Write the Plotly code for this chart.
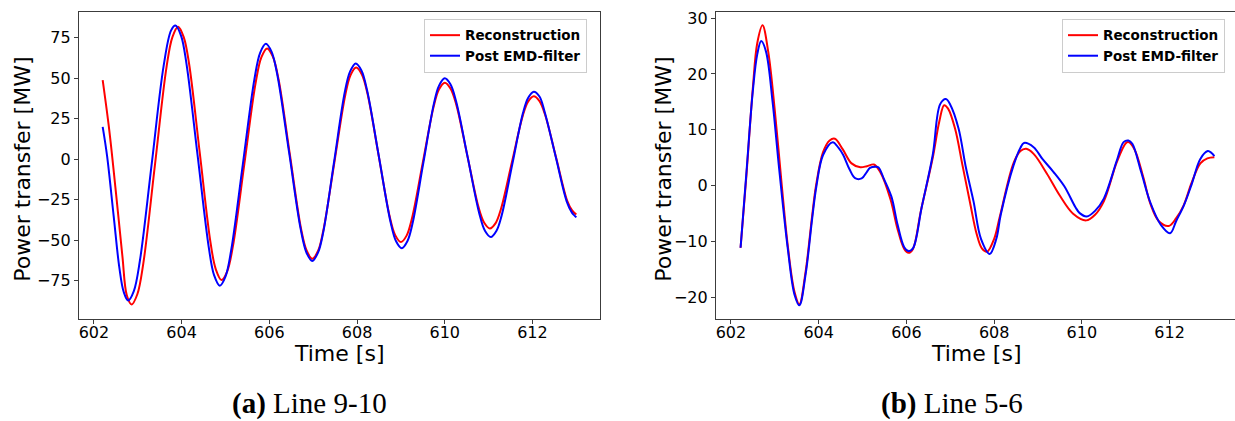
import plotly.graph_objects as go

# ---------------- Line 9-10 ----------------
t_a_rec = [602.2, 602.35, 602.5, 602.65, 602.75, 602.86, 602.99,
           603.125, 603.39, 603.655, 603.79, 603.92, 604.05,
           604.17, 604.415, 604.66, 604.78, 604.91, 605.04,
           605.17, 605.43, 605.69, 605.82, 605.95, 606.08,
           606.21, 606.465, 606.72, 606.85, 606.98, 607.11,
           607.23, 607.48, 607.73, 607.85, 607.98, 608.11,
           608.235, 608.49, 608.745, 608.87, 609.0, 609.13,
           609.25, 609.5, 609.75, 609.87, 610.0, 610.13,
           610.26, 610.515, 610.77, 610.9, 611.03, 611.16,
           611.28, 611.53, 611.78, 611.9, 612.03, 612.16,
           612.285, 612.54, 612.795, 612.9, 613.0]
p_a_rec = [48.8, 18.0, -20.0, -60.0, -84.0, -89.7, -83.4,
           -64.6, -4.0, 56.7, 75.4, 81.8, 75.2,
           58.9, 3.6, -51.7, -68.0, -74.6, -69.2,
           -53.7, -3.1, 47.5, 63.0, 68.4, 63.3,
           49.4, 3.5, -42.5, -56.4, -61.5, -56.7,
           -44.2, -2.5, 39.3, 51.8, 56.6, 52.3,
           40.8, 2.7, -35.4, -46.9, -51.2, -47.2,
           -36.8, -2.0, 32.8, 43.2, 47.2, 43.7,
           34.0, 2.2, -29.6, -39.3, -42.8, -39.5,
           -30.9, -2.0, 26.9, 35.5, 38.8, 35.8,
           27.7, 0.9, -25.9, -31.5, -34.2]

t_a_emd = [602.2, 602.3, 602.45, 602.58, 602.68, 602.78, 602.91,
           603.05, 603.32, 603.59, 603.76, 603.86, 603.99,
           604.11, 604.365, 604.62, 604.74, 604.87, 605.0,
           605.13, 605.395, 605.66, 605.79, 605.92, 606.05,
           606.185, 606.45, 606.715, 606.85, 606.98, 607.11,
           607.23, 607.475, 607.72, 607.84, 607.97, 608.1,
           608.23, 608.495, 608.76, 608.89, 609.02, 609.15,
           609.265, 609.51, 609.755, 609.87, 610.0, 610.13,
           610.26, 610.525, 610.79, 610.92, 611.05, 611.18,
           611.295, 611.54, 611.785, 611.9, 612.03, 612.16,
           612.28, 612.53, 612.78, 612.9, 612.95, 613.0]
p_a_emd = [19.9, 2.0, -35.0, -67.0, -82.0, -87.3, -81.4,
           -62.4, -2.4, 57.6, 79.5, 82.5, 76.0,
           59.0, 2.2, -54.6, -71.6, -78.1, -72.5,
           -56.2, -3.4, 49.4, 65.7, 71.3, 66.4,
           51.7, 4.3, -43.2, -57.9, -62.8, -57.7,
           -45.0, -1.9, 41.3, 54.0, 59.1, 54.8,
           42.4, 2.1, -38.3, -50.7, -55.0, -50.5,
           -39.7, -2.6, 34.6, 45.4, 49.9, 46.2,
           35.6, 0.9, -33.8, -44.4, -48.1, -44.2,
           -35.0, -3.2, 28.6, 37.8, 41.7, 38.7,
           29.0, 1.5, -26.0, -33.0, -34.5, -35.9]

# ---------------- Line 5-6 ----------------
t_b_rec = [602.22, 602.35, 602.5, 602.6, 602.72, 602.85, 603.0, 603.16,
           603.3, 603.45, 603.56, 603.7, 603.85, 603.94, 604.1, 604.25,
           604.37, 604.55, 604.75, 604.95, 605.1, 605.26, 605.4, 605.64,
           605.79, 605.95, 606.05, 606.15, 606.33, 606.6, 606.75, 606.86,
           606.95, 607.11, 607.28, 607.45, 607.6, 607.72, 607.84, 608.0,
           608.13, 608.44, 608.6, 608.73, 608.9, 609.2, 609.5, 609.8,
           610.1, 610.3, 610.5, 610.8, 611.0, 611.06, 611.2, 611.4,
           611.56, 611.75, 611.98, 612.15, 612.32, 612.5, 612.7, 612.86,
           613.02]
p_b_rec = [-11.1, 1.5, 17.5, 25.5, 28.7, 24.0, 13.5, 0.0,
           -11.0, -19.0, -21.2, -15.5, -5.5, 0.0, 6.0, 8.1,
           8.4, 6.5, 4.0, 3.3, 3.5, 3.8, 2.5, -2.5,
           -7.5, -11.3, -12.0, -11.3, -4.5, 5.0, 11.5, 14.4,
           13.8, 10.2, 3.6, -3.0, -8.6, -11.2, -11.8, -9.5,
           -5.5, 4.0, 6.2, 6.6, 5.7, 2.2, -1.8, -5.0,
           -6.2, -5.2, -2.8, 4.3, 7.6, 7.8, 6.5, 1.5,
           -3.2, -6.3, -7.2, -5.8, -3.5, 0.5, 4.0, 4.9,
           5.1]

t_b_emd = [602.22, 602.35, 602.5, 602.6, 602.69, 602.8, 602.95, 603.1,
           603.3, 603.45, 603.56, 603.7, 603.85, 603.95, 604.1, 604.32,
           604.45, 604.56, 604.7, 604.83, 604.98, 605.1, 605.17, 605.3,
           605.36, 605.5, 605.66, 605.8, 605.95, 606.05, 606.15, 606.35,
           606.6, 606.77, 606.9, 607.0, 607.19, 607.35, 607.53, 607.7,
           607.9, 608.05, 608.15, 608.44, 608.6, 608.68, 608.9, 609.1,
           609.35, 609.6, 609.85, 609.95, 610.11, 610.3, 610.5, 610.8,
           610.95, 611.06, 611.15, 611.35, 611.56, 611.8, 612.01, 612.15,
           612.32, 612.5, 612.7, 612.87, 612.95, 613.02]
p_b_emd = [-11.1, 2.0, 17.0, 23.5, 25.9, 24.0, 15.0, 3.0,
           -11.5, -19.5, -21.4, -16.0, -6.0, 0.0, 5.5, 7.8,
           6.8, 5.5, 3.0, 1.35, 1.3, 2.5, 3.2, 3.4,
           3.3, 1.0, -2.0, -7.0, -11.0, -11.7, -11.2, -3.8,
           5.5, 14.6, 15.5, 14.5, 10.2, 3.5, -2.8, -9.5,
           -12.2, -9.5, -5.2, 3.6, 6.8, 7.65, 6.9, 4.8,
           2.5, -0.1, -3.8, -4.9, -5.5, -4.5, -2.3, 4.6,
           7.8, 8.1, 7.5, 2.5, -3.0, -7.0, -8.5, -6.3,
           -3.6, 0.2, 4.8, 6.2, 5.9, 5.3]

xticks = [602, 604, 606, 608, 610, 612]
yticks_a = [-75, -50, -25, 0, 25, 50, 75]
yticks_b = [-20, -10, 0, 10, 20, 30]

W, H = 1235, 421
RED, BLUE = "#ff0000", "#0000ff"
SPINE = "#3c3c3c"
FONT = "DejaVu Sans"


def px(x):
    return x / W


def py(y):
    return 1 - y / H


fig = go.Figure()

series = [
    (t_a_rec, p_a_rec, "Reconstruction", RED, "x", "y", "legend"),
    (t_a_emd, p_a_emd, "Post EMD-filter", BLUE, "x", "y", "legend"),
    (t_b_rec, p_b_rec, "Reconstruction", RED, "x2", "y2", "legend2"),
    (t_b_emd, p_b_emd, "Post EMD-filter", BLUE, "x2", "y2", "legend2"),
]
for t, p, name, color, xa, ya, lg in series:
    fig.add_trace(go.Scatter(
        x=t, y=p, mode="lines", name=name,
        line=dict(color=color, width=2, shape="spline", smoothing=1.0),
        xaxis=xa, yaxis=ya, legend=lg,
    ))

axis_common = dict(
    showgrid=False, zeroline=False, showline=True, linecolor=SPINE,
    linewidth=1.3, ticks="outside", ticklen=4, tickwidth=1.2,
    tickcolor=SPINE, tickfont=dict(family=FONT, size=16, color="black"),
)
xaxis_extra = dict(ticklabelstandoff=-5)

ydom = [py(318), py(9)]
fig.update_layout(
    width=W, height=H,
    margin=dict(l=0, r=0, t=0, b=0),
    paper_bgcolor="white", plot_bgcolor="white",
    showlegend=True,
    xaxis=dict(domain=[px(79), px(600)], range=[601.66, 613.54],
               tickvals=xticks, mirror=True, anchor="y",
               **axis_common, **xaxis_extra),
    yaxis=dict(domain=ydom, range=[-98.5, 90.9], tickvals=yticks_a,
               mirror=True, anchor="x", **axis_common),
    xaxis2=dict(domain=[px(716), 1.0], range=[601.66, 613.49],
                tickvals=xticks, mirror=True, anchor="y2",
                **axis_common, **xaxis_extra),
    yaxis2=dict(domain=ydom, range=[-23.8, 31.1], tickvals=yticks_b,
                mirror=False, anchor="x2", **axis_common),
)

legend_style = dict(
    xanchor="left", yanchor="top",
    bgcolor="rgba(255,255,255,0.85)", bordercolor="#cccccc", borderwidth=1,
    font=dict(family=FONT, size=13.5, color="black", weight="bold"),
    itemwidth=30, tracegroupgap=0,
)
fig.update_layout(
    legend=dict(x=px(424), y=py(16), **legend_style),
    legend2=dict(x=px(1062), y=py(16), **legend_style),
)

annotations = [
    dict(text="Time [s]", x=px(339), y=py(353), font=dict(size=22)),
    dict(text="Time [s]", x=px(976), y=py(353), font=dict(size=22)),
    dict(text="Power transfer [MW]", x=px(23), y=py(168), textangle=-90,
         font=dict(size=22)),
    dict(text="Power transfer [MW]", x=px(664), y=py(168), textangle=-90,
         font=dict(size=22)),
    dict(text="<b>(a)</b> Line 9-10", x=px(309), y=py(403),
         font=dict(size=29, family="Liberation Serif")),
    dict(text="<b>(b)</b> Line 5-6", x=px(952), y=py(403),
         font=dict(size=29, family="Liberation Serif")),
]
for a in annotations:
    f = dict(family=FONT, color="black")
    f.update(a.pop("font"))
    fig.add_annotation(xref="paper", yref="paper", xanchor="center",
                       yanchor="middle", showarrow=False, font=f, **a)

fig.write_html("out.html")
